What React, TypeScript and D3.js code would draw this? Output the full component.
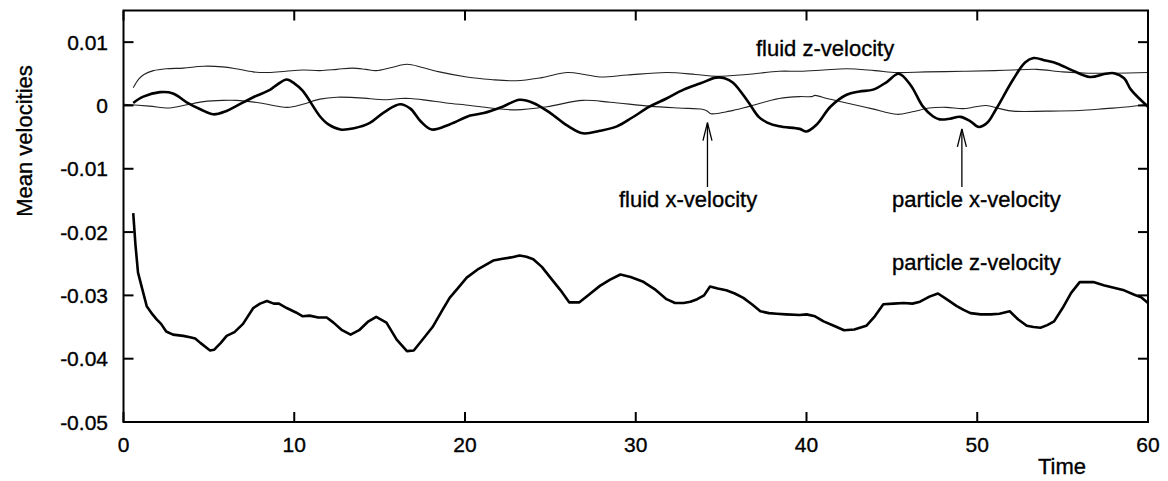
import React from "react";
import * as d3 from "d3";

// Time samples and mean velocities for each series
const fluidZTime = [0.57, 0.9, 1.2, 1.75, 2.5, 3.5, 4.7, 5.8, 6.6, 7.6, 8.5, 9.5, 10.5, 11.5, 12.5, 13.4, 14.2, 14.8, 15.7, 16.6, 17.5, 18.5, 20.1, 21.5, 23.0, 24.5, 26.0, 27.0, 27.9, 29.5, 31.8, 33.5, 34.7, 36.5, 38.4, 39.6, 41, 42.35, 44, 45.3, 47, 49.2, 51, 52.1, 53.5, 55.0, 56.5, 58, 60];
const fluidZ = [0.0028, 0.0042, 0.0049, 0.0055, 0.0058, 0.0059, 0.0062, 0.0061, 0.0058, 0.0053, 0.0052, 0.0054, 0.0056, 0.0055, 0.0057, 0.0059, 0.0057, 0.0055, 0.006, 0.0065, 0.006, 0.0053, 0.0045, 0.0041, 0.0039, 0.0044, 0.0052, 0.0049, 0.0045, 0.0048, 0.0052, 0.0049, 0.0046, 0.0049, 0.0054, 0.0054, 0.0056, 0.0058, 0.0055, 0.0052, 0.0053, 0.0054, 0.0055, 0.0056, 0.0057, 0.0053, 0.0051, 0.0051, 0.0052];

const fluidXTime = [0, 1.5, 2.7, 3.7, 4.7, 5.8, 6.6, 8, 9.6, 10.5, 11.5, 12.5, 13.8, 15.4, 16.2, 16.8, 17.8, 18.9, 20.3, 21.5, 23.0, 24.8, 26.9, 28.5, 30.8, 32.5, 33.9, 34.2, 34.4, 35.5, 36.7, 38.4, 39.6, 40.3, 40.5, 41.2, 42.35, 43.8, 45.3, 46.2, 47.2, 48.2, 49.2, 50.5, 51.3, 52.1, 54, 56, 57.5, 58.9, 60];
const fluidX = [0.0002, -0.0001, -0.0004, 0.0001, 0.0006, 0.0008, 0.0008, 0.0004, -0.0003, 0.0002, 0.001, 0.0013, 0.0012, 0.0009, 0.0011, 0.0011, 0.0008, 0.0004, 0.0, -0.0004, -0.0007, -0.0002, 0.0008, 0.0005, -0.0001, -0.0004, -0.0006, -0.0009, -0.0013, -0.0009, -0.0001, 0.0011, 0.0014, 0.0014, 0.0016, 0.0011, 0.0004, -0.0005, -0.0014, -0.001, -0.0004, -0.0003, -0.0005, 0.0, -0.0005, -0.0009, -0.0009, -0.0008, -0.0005, -0.0002, 0.0002];

const particleXTime = [0.57, 1.16, 2.14, 2.9, 3.7, 4.5, 5.26, 6.0, 6.6, 7.6, 8.6, 9.0, 9.56, 10.0, 10.5, 11.5, 12.0, 12.7, 13.5, 14.4, 15.3, 16.2, 16.8, 17.4, 18.05, 19.1, 20.3, 21.1, 22.2, 23.2, 24.0, 25.0, 26.0, 26.9, 27.9, 28.9, 29.8, 30.8, 31.8, 32.8, 33.8, 34.7, 35.2, 35.7, 36.6, 37.2, 37.7, 38.4, 39.6, 40.0, 40.6, 41.4, 42.35, 43.1, 43.9, 44.7, 45.4, 46.1, 46.8, 47.4, 47.8, 48.4, 49.0, 49.6, 50.1, 50.6, 51.1, 52.1, 52.8, 53.3, 54.0, 54.7, 55.6, 56.6, 57.5, 58.0, 58.6, 59.0, 60.0];
const particleX = [0.0004, 0.0014, 0.0021, 0.0019, 0.0005, -0.0006, -0.0014, -0.0009, -0.0001, 0.0013, 0.0025, 0.0033, 0.0041, 0.0035, 0.0023, -0.0017, -0.003, -0.0038, -0.0036, -0.0028, -0.001, 0.0002, -0.0005, -0.0025, -0.0038, -0.003, -0.0016, -0.0012, -0.0002, 0.0009, 0.0004, -0.0012, -0.0032, -0.0044, -0.004, -0.0033, -0.0019, -0.0002, 0.0011, 0.0025, 0.0035, 0.0044, 0.0043, 0.0036, 0.0005, -0.0018, -0.0027, -0.0033, -0.0037, -0.0041, -0.003, -0.0002, 0.0017, 0.0022, 0.0025, 0.0037, 0.005, 0.0032, -0.0001, -0.0017, -0.0022, -0.0021, -0.0018, -0.0025, -0.0034, -0.0027, -0.0006, 0.0041, 0.0068, 0.0075, 0.0071, 0.0066, 0.0055, 0.0045, 0.005, 0.0051, 0.0043, 0.0025, -0.0002];

const particleZTime = [0.57, 0.7, 0.85, 1.1, 1.36, 1.7, 1.94, 2.2, 2.5, 2.9, 3.5, 3.9, 4.2, 4.5, 5.07, 5.3, 5.7, 6.04, 6.5, 7.0, 7.6, 8.0, 8.4, 8.8, 9.1, 9.56, 10.1, 10.5, 10.9, 11.4, 11.9, 12.3, 12.8, 13.3, 13.8, 14.3, 14.8, 15.4, 16.0, 16.6, 17.0, 17.6, 18.1, 18.7, 19.1, 19.6, 20.1, 20.8, 21.65, 22.2, 22.7, 23.2, 23.6, 24.0, 24.5, 25.0, 25.6, 26.1, 26.7, 27.2, 27.9, 28.5, 29.1, 29.7, 30.4, 31.1, 31.8, 32.3, 32.8, 33.2, 33.6, 34.0, 34.35, 34.8, 35.3, 35.8, 36.3, 36.8, 37.3, 37.8, 38.25, 38.8, 39.6, 40.0, 40.5, 41.0, 41.6, 42.2, 42.8, 43.5, 44.0, 44.5, 45.1, 45.7, 46.2, 46.65, 47.2, 47.7, 48.2, 48.8, 49.2, 49.6, 50.2, 50.8, 51.3, 51.9, 52.4, 52.9, 53.3, 53.7, 54.1, 54.5, 55.0, 55.5, 56.0, 56.8, 57.4, 58.0, 58.6, 59.2, 59.6, 60.0];
const particleZ = [-0.017, -0.022, -0.0264, -0.029, -0.0317, -0.033, -0.0338, -0.0345, -0.0357, -0.0362, -0.0364, -0.0366, -0.0368, -0.0375, -0.0387, -0.0386, -0.0375, -0.0364, -0.0358, -0.0345, -0.032, -0.0313, -0.0309, -0.0313, -0.0313, -0.032, -0.0327, -0.0333, -0.0332, -0.0335, -0.0335, -0.0343, -0.0355, -0.0362, -0.0355, -0.0342, -0.0334, -0.0343, -0.037, -0.0388, -0.0387, -0.0367, -0.035, -0.0322, -0.0304, -0.0288, -0.0272, -0.0258, -0.0245, -0.0242, -0.024, -0.0237, -0.0239, -0.0243, -0.0255, -0.0272, -0.0292, -0.0311, -0.0311, -0.03, -0.0285, -0.0275, -0.0267, -0.0271, -0.0278, -0.029, -0.0306, -0.0312, -0.0312, -0.031, -0.0306, -0.03, -0.0286, -0.0289, -0.0292, -0.0297, -0.0304, -0.0314, -0.0325, -0.0328, -0.0329, -0.033, -0.0331, -0.033, -0.0333, -0.0341, -0.0348, -0.0355, -0.0354, -0.0348, -0.0333, -0.0314, -0.0313, -0.0312, -0.0313, -0.031, -0.0302, -0.0297, -0.0306, -0.0317, -0.0323, -0.0328, -0.033, -0.033, -0.0329, -0.0325, -0.0338, -0.0348, -0.035, -0.0351, -0.0347, -0.0341, -0.032, -0.0296, -0.0279, -0.0279, -0.0284, -0.0288, -0.0292, -0.0299, -0.0303, -0.0312];

// Axis ticks
const xTicks = [0, 10, 20, 30, 40, 50, 60];
const yTicks = [0.01, 0, -0.01, -0.02, -0.03, -0.04, -0.05];
const yTickLabels = ["0.01", "0", "-0.01", "-0.02", "-0.03", "-0.04", "-0.05"];

// Annotations: [time, value] for arrow tips
const fluidXArrowAt = [34.2, -0.0027];
const particleXArrowAt = [49.1, -0.0037];

const FONT = "'Liberation Sans', Arial, Helvetica, sans-serif";
const W = 1168;
const H = 481;
const plot = { left: 123.5, right: 1148, top: 10.5, bottom: 422 };

function pts(t: number[], v: number[]): [number, number][] {
  return t.map((ti, i) => [ti, v[i]]);
}

export default function App() {
  const x = d3.scaleLinear().domain([0, 60]).range([plot.left, plot.right]);
  const y = d3.scaleLinear().domain([-0.05, 0.015]).range([plot.bottom, plot.top]);

  const smooth = d3
    .line<[number, number]>()
    .x((d) => x(d[0]))
    .y((d) => y(d[1]))
    .curve(d3.curveCatmullRom.alpha(0.5));
  const jagged = d3
    .line<[number, number]>()
    .x((d) => x(d[0]))
    .y((d) => y(d[1]));

  const tickLen = 10;

  const arrow = (at: number[], tailY: number) => {
    const ax = x(at[0]);
    const ay = y(at[1]);
    return (
      <g stroke="#000" strokeWidth={1.3} fill="none">
        <line x1={ax} y1={tailY} x2={ax} y2={ay} />
        <polyline points={`${ax - 4.5},${ay + 18} ${ax},${ay} ${ax + 4.5},${ay + 18}`} />
      </g>
    );
  };

  // text drawn slightly heavier than the regular face
  const txt = { fill: "#000", stroke: "#000", strokeWidth: 0.35 };

  return (
    <svg
      width={W}
      height={H}
      style={{ position: "absolute", left: 0, top: 0, background: "#fff" }}
      fontFamily={FONT}
    >
      <rect x={0} y={0} width={W} height={H} fill="#fff" />

      {/* data series */}
      <path d={smooth(pts(fluidZTime, fluidZ)) || ""} fill="none" stroke="#222" strokeWidth={1.1} />
      <path d={smooth(pts(fluidXTime, fluidX)) || ""} fill="none" stroke="#222" strokeWidth={1.1} />
      <path
        d={smooth(pts(particleXTime, particleX)) || ""}
        fill="none"
        stroke="#000"
        strokeWidth={2.6}
        strokeLinejoin="round"
      />
      <path
        d={jagged(pts(particleZTime, particleZ)) || ""}
        fill="none"
        stroke="#000"
        strokeWidth={2.6}
        strokeLinejoin="round"
      />

      {/* frame */}
      <rect
        x={plot.left}
        y={plot.top}
        width={plot.right - plot.left}
        height={plot.bottom - plot.top}
        fill="none"
        stroke="#000"
        strokeWidth={2}
      />

      {/* x ticks (bottom and mirrored top) */}
      {xTicks.map((t) => (
        <g key={`x${t}`}>
          <line x1={x(t)} x2={x(t)} y1={plot.bottom} y2={plot.bottom - tickLen} stroke="#000" strokeWidth={2} />
          <line x1={x(t)} x2={x(t)} y1={plot.top} y2={plot.top + tickLen} stroke="#000" strokeWidth={2} />
          <text x={x(t)} y={451.5} textAnchor="middle" fontSize={21} {...txt}>
            {t}
          </text>
        </g>
      ))}

      {/* y ticks (left and mirrored right) */}
      {yTicks.map((v, i) => (
        <g key={`y${i}`}>
          <line x1={plot.left} x2={plot.left + tickLen} y1={y(v)} y2={y(v)} stroke="#000" strokeWidth={2} />
          <line x1={plot.right} x2={plot.right - tickLen} y1={y(v)} y2={y(v)} stroke="#000" strokeWidth={2} />
          <text x={108} y={y(v) + 7.5} textAnchor="end" fontSize={21} {...txt}>
            {yTickLabels[i]}
          </text>
        </g>
      ))}

      {/* axis titles */}
      <text x={1062} y={474} textAnchor="middle" fontSize={22} {...txt}>
        Time
      </text>
      <text transform="translate(31.5,141) rotate(-90)" textAnchor="middle" fontSize={22} {...txt}>
        Mean velocities
      </text>

      {/* series labels */}
      <text x={756} y={56} fontSize={22} {...txt}>fluid z-velocity</text>
      <text x={619} y={207} fontSize={22} {...txt}>fluid x-velocity</text>
      <text x={892} y={207} fontSize={22} {...txt}>particle x-velocity</text>
      <text x={892} y={270} fontSize={22} {...txt}>particle z-velocity</text>

      {arrow(fluidXArrowAt, 187)}
      {arrow(particleXArrowAt, 187)}
    </svg>
  );
}
